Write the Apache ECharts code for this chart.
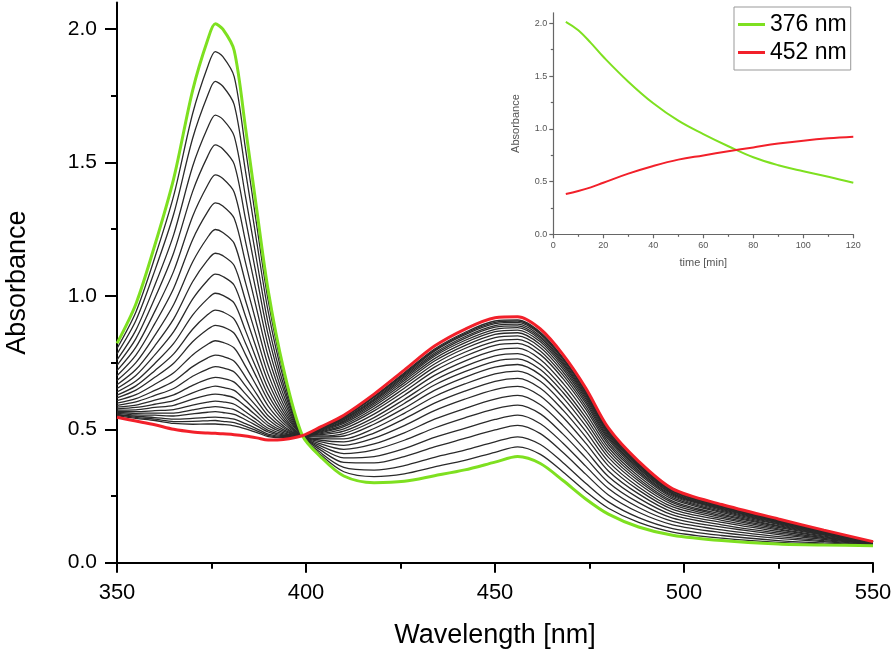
<!DOCTYPE html>
<html><head><meta charset="utf-8">
<script src="https://cdn.jsdelivr.net/npm/echarts@6/dist/echarts.min.js"></script>
<style>html,body{margin:0;padding:0;background:#fff}#c{width:896px;height:654px}</style>
</head><body><div id="c"></div>
<script>
// Main spectra: wavelength grid (nm)
const wavelengths = [350,355,360,365,370,374,376,378,381,384,387,390,394,399,404,410,418,426,434,442,450,456,462,468,474,480,488,497,510,525,537,550];
// first spectrum (green)
const absFirst = [0.822,0.970,1.190,1.440,1.770,1.960,2.020,2.000,1.920,1.630,1.320,1.020,0.730,0.478,0.395,0.325,0.300,0.305,0.326,0.348,0.377,0.398,0.372,0.308,0.239,0.182,0.134,0.103,0.083,0.070,0.066,0.064];
// last spectrum (red)
const absLast = [0.545,0.531,0.517,0.500,0.490,0.486,0.485,0.483,0.480,0.475,0.468,0.460,0.462,0.476,0.510,0.553,0.632,0.722,0.812,0.875,0.918,0.922,0.876,0.780,0.655,0.505,0.380,0.277,0.218,0.164,0.122,0.079];
// intermediate spectra (black)
const absIntermediate = [
[0.803,0.940,1.144,1.376,1.683,1.860,1.916,1.897,1.822,1.551,1.262,0.982,0.712,0.478,0.403,0.341,0.323,0.333,0.359,0.384,0.414,0.434,0.406,0.340,0.267,0.204,0.151,0.115,0.092,0.076,0.070,0.065],
[0.783,0.908,1.095,1.307,1.590,1.752,1.804,1.786,1.717,1.467,1.200,0.941,0.692,0.478,0.411,0.357,0.347,0.364,0.395,0.422,0.453,0.472,0.443,0.375,0.298,0.228,0.169,0.128,0.102,0.083,0.074,0.066],
[0.760,0.872,1.040,1.230,1.485,1.631,1.678,1.662,1.599,1.372,1.130,0.895,0.670,0.478,0.421,0.376,0.374,0.398,0.434,0.466,0.498,0.515,0.484,0.413,0.332,0.254,0.189,0.142,0.113,0.091,0.079,0.067],
[0.740,0.840,0.991,1.162,1.391,1.524,1.566,1.551,1.494,1.288,1.068,0.854,0.651,0.478,0.429,0.393,0.398,0.428,0.470,0.504,0.537,0.553,0.521,0.448,0.362,0.278,0.207,0.155,0.123,0.098,0.083,0.068],
[0.720,0.808,0.942,1.093,1.298,1.416,1.454,1.440,1.389,1.204,1.006,0.813,0.631,0.477,0.437,0.409,0.423,0.459,0.505,0.543,0.577,0.591,0.558,0.482,0.393,0.301,0.225,0.167,0.133,0.105,0.087,0.070],
[0.701,0.778,0.896,1.029,1.211,1.316,1.349,1.337,1.291,1.125,0.948,0.775,0.613,0.477,0.445,0.425,0.445,0.487,0.538,0.578,0.613,0.627,0.592,0.514,0.421,0.323,0.242,0.179,0.142,0.111,0.091,0.071],
[0.683,0.750,0.852,0.968,1.127,1.220,1.249,1.238,1.197,1.050,0.892,0.739,0.595,0.477,0.453,0.440,0.467,0.514,0.570,0.613,0.649,0.661,0.625,0.545,0.448,0.344,0.258,0.190,0.151,0.117,0.094,0.072],
[0.667,0.724,0.813,0.914,1.053,1.135,1.160,1.151,1.114,0.983,0.843,0.706,0.580,0.477,0.459,0.453,0.486,0.539,0.598,0.643,0.680,0.691,0.654,0.572,0.472,0.363,0.272,0.200,0.159,0.123,0.097,0.072],
[0.653,0.702,0.779,0.866,0.988,1.059,1.082,1.073,1.040,0.924,0.799,0.678,0.566,0.477,0.465,0.464,0.503,0.560,0.623,0.670,0.708,0.718,0.680,0.596,0.493,0.379,0.284,0.209,0.166,0.127,0.100,0.073],
[0.640,0.681,0.747,0.822,0.928,0.990,1.010,1.002,0.973,0.870,0.759,0.652,0.554,0.477,0.471,0.475,0.519,0.579,0.646,0.695,0.733,0.743,0.704,0.619,0.513,0.395,0.296,0.218,0.172,0.132,0.103,0.074],
[0.628,0.663,0.720,0.783,0.875,0.930,0.947,0.940,0.913,0.823,0.725,0.629,0.543,0.477,0.475,0.484,0.532,0.597,0.666,0.716,0.755,0.764,0.724,0.638,0.530,0.408,0.306,0.225,0.177,0.136,0.105,0.075],
[0.618,0.647,0.695,0.748,0.828,0.875,0.890,0.884,0.860,0.780,0.693,0.608,0.533,0.477,0.480,0.493,0.544,0.612,0.684,0.736,0.775,0.784,0.743,0.655,0.545,0.420,0.315,0.231,0.182,0.139,0.107,0.075],
[0.608,0.630,0.669,0.712,0.779,0.819,0.832,0.826,0.805,0.736,0.661,0.587,0.523,0.476,0.484,0.502,0.557,0.628,0.702,0.756,0.796,0.804,0.762,0.673,0.561,0.432,0.324,0.238,0.188,0.143,0.109,0.076],
[0.598,0.615,0.646,0.680,0.735,0.768,0.778,0.773,0.755,0.696,0.631,0.567,0.513,0.476,0.488,0.510,0.569,0.642,0.719,0.774,0.815,0.822,0.780,0.690,0.576,0.443,0.333,0.244,0.192,0.146,0.111,0.076],
[0.590,0.603,0.627,0.653,0.699,0.726,0.735,0.730,0.715,0.663,0.607,0.551,0.506,0.476,0.491,0.516,0.578,0.654,0.733,0.789,0.830,0.837,0.794,0.703,0.587,0.452,0.340,0.249,0.196,0.149,0.113,0.077],
[0.583,0.591,0.609,0.629,0.665,0.688,0.695,0.691,0.677,0.633,0.585,0.537,0.499,0.476,0.494,0.522,0.587,0.665,0.745,0.803,0.844,0.850,0.807,0.715,0.598,0.461,0.346,0.253,0.200,0.151,0.114,0.077],
[0.577,0.582,0.594,0.608,0.637,0.656,0.662,0.657,0.646,0.608,0.566,0.524,0.493,0.476,0.497,0.527,0.594,0.674,0.756,0.814,0.856,0.862,0.818,0.726,0.607,0.468,0.352,0.257,0.203,0.153,0.116,0.077],
[0.572,0.573,0.582,0.590,0.613,0.628,0.632,0.629,0.618,0.586,0.550,0.514,0.488,0.476,0.499,0.531,0.600,0.682,0.765,0.824,0.866,0.872,0.828,0.735,0.615,0.474,0.356,0.260,0.205,0.155,0.117,0.078],
[0.567,0.566,0.570,0.574,0.591,0.602,0.606,0.603,0.594,0.566,0.535,0.504,0.483,0.476,0.501,0.535,0.606,0.689,0.774,0.833,0.875,0.881,0.836,0.743,0.622,0.480,0.361,0.263,0.207,0.157,0.118,0.078],
[0.563,0.560,0.561,0.561,0.573,0.582,0.585,0.582,0.574,0.550,0.523,0.496,0.479,0.476,0.503,0.538,0.610,0.695,0.780,0.841,0.883,0.888,0.843,0.749,0.628,0.484,0.364,0.266,0.209,0.158,0.118,0.078],
[0.560,0.554,0.553,0.550,0.558,0.564,0.566,0.563,0.556,0.536,0.513,0.490,0.476,0.476,0.504,0.541,0.614,0.700,0.786,0.847,0.889,0.894,0.849,0.755,0.633,0.488,0.367,0.268,0.211,0.159,0.119,0.078],
[0.556,0.549,0.544,0.538,0.541,0.545,0.546,0.544,0.538,0.521,0.502,0.482,0.473,0.476,0.505,0.544,0.619,0.705,0.793,0.854,0.896,0.901,0.856,0.761,0.638,0.492,0.370,0.270,0.213,0.160,0.120,0.078],
[0.554,0.545,0.538,0.529,0.530,0.532,0.533,0.530,0.525,0.511,0.494,0.477,0.470,0.476,0.506,0.546,0.622,0.709,0.797,0.859,0.901,0.906,0.860,0.765,0.642,0.495,0.372,0.272,0.214,0.161,0.120,0.079],
[0.551,0.541,0.533,0.522,0.519,0.520,0.520,0.518,0.513,0.502,0.488,0.473,0.468,0.476,0.507,0.548,0.624,0.712,0.801,0.863,0.906,0.910,0.864,0.769,0.645,0.498,0.374,0.273,0.215,0.162,0.121,0.079]
];
// axis ticks
const mainYTicks = [0, 0.5, 1.0, 1.5, 2.0];
const mainYMinor = [0.25, 0.75, 1.25, 1.75];
// inset: absorbance vs time
const insetTime = [5,10,15,20,30,40,50,60,70,80,90,100,110,120];
const inset376 = [2.015,1.935,1.815,1.683,1.447,1.242,1.077,0.950,0.835,0.730,0.655,0.598,0.546,0.489];
const inset452 = [0.382,0.410,0.445,0.489,0.575,0.648,0.708,0.748,0.787,0.824,0.860,0.888,0.910,0.925];
const legendNames = ['376 nm', '452 nm'];

const FONT = 'Liberation Sans, Arial, sans-serif';
const GREEN = '#7ee020';
const RED = '#f2202a';
const INK = '#000';
const GRAY = '#666';

const spec = arr => wavelengths.map((w, i) => [w, arr[i]]);
const kin = arr => insetTime.map((t, i) => [t, arr[i]]);

const chart = echarts.init(document.getElementById('c'), null, {renderer: 'canvas'});

const series = [];
absIntermediate.forEach(c => series.push({
  type: 'line', xAxisIndex: 0, yAxisIndex: 0, data: spec(c), symbol: 'none', smooth: 0.3,
  lineStyle: {color: '#2a2a2a', width: 1.3}, silent: true, z: 2
}));
series.push({type: 'line', xAxisIndex: 0, yAxisIndex: 0, data: spec(absFirst), symbol: 'none', smooth: 0.3,
  lineStyle: {color: GREEN, width: 3}, silent: true, z: 3});
series.push({type: 'line', xAxisIndex: 0, yAxisIndex: 0, data: spec(absLast), symbol: 'none', smooth: 0.3,
  lineStyle: {color: RED, width: 3}, silent: true, z: 3});
series.push({name: legendNames[0], type: 'line', xAxisIndex: 1, yAxisIndex: 2, data: kin(inset376), symbol: 'none', smooth: 0.4,
  lineStyle: {color: GREEN, width: 2}, itemStyle: {color: GREEN}, silent: true, z: 4});
series.push({name: legendNames[1], type: 'line', xAxisIndex: 1, yAxisIndex: 2, data: kin(inset452), symbol: 'none', smooth: 0.4,
  lineStyle: {color: RED, width: 2}, itemStyle: {color: RED}, silent: true, z: 4});

chart.setOption({
  animation: false,
  backgroundColor: '#fff',
  textStyle: {fontFamily: FONT},
  grid: [
    {left: 117, right: 23, top: 2.5, bottom: 91.3, outerBoundsMode: 'none', containLabel: false},
    {left: 553.3, right: 42.7, top: 12.8, bottom: 419.7, outerBoundsMode: 'none', containLabel: false}
  ],
  legend: {
    data: legendNames, orient: 'vertical', left: 734, top: 7, icon: 'rect',
    backgroundColor: '#fff', borderColor: '#999', borderWidth: 1, borderRadius: 0,
    padding: [6, 4, 6, 4], itemWidth: 27, itemHeight: 3, itemGap: 5,
    textStyle: {fontSize: 23, color: INK, fontFamily: FONT}
  },
  xAxis: [
    {gridIndex: 0, type: 'value', min: 350, max: 550, interval: 50, position: 'bottom',
     axisLine: {show: true, onZero: false, lineStyle: {color: INK, width: 2}},
     axisTick: {show: true, length: 10, lineStyle: {color: INK, width: 2}},
     minorTick: {show: true, splitNumber: 2, length: 6, lineStyle: {color: INK, width: 2}},
     axisLabel: {fontSize: 22, color: INK, margin: 19, fontFamily: FONT},
     splitLine: {show: false},
     name: 'Wavelength [nm]', nameLocation: 'middle', nameGap: 59,
     nameTextStyle: {fontSize: 27, color: INK, fontFamily: FONT}},
    {gridIndex: 1, type: 'value', min: 0, max: 120, interval: 20, position: 'bottom',
     axisLine: {show: true, onZero: false, lineStyle: {color: GRAY, width: 1.2}},
     axisTick: {show: true, length: 4, lineStyle: {color: GRAY, width: 1.2}},
     minorTick: {show: true, splitNumber: 2, length: 2.5, lineStyle: {color: GRAY, width: 1.2}},
     axisLabel: {fontSize: 9, color: '#555', margin: 7, fontFamily: FONT},
     splitLine: {show: false},
     name: 'time [min]', nameLocation: 'middle', nameGap: 23,
     nameTextStyle: {fontSize: 11, color: '#555', fontFamily: FONT}}
  ],
  yAxis: [
    {gridIndex: 0, type: 'value', min: 0, max: 2.1, position: 'left',
     axisLine: {show: true, onZero: false, lineStyle: {color: INK, width: 2}},
     axisTick: {show: true, customValues: mainYTicks, length: 12, lineStyle: {color: INK, width: 2}},
     axisLabel: {customValues: mainYTicks, formatter: v => v.toFixed(1), fontSize: 21, color: INK, margin: 20, fontFamily: FONT},
     splitLine: {show: false},
     name: 'Absorbance', nameLocation: 'middle', nameGap: 86,
     nameTextStyle: {fontSize: 27, color: INK, fontFamily: FONT}},
    {gridIndex: 0, type: 'value', min: 0, max: 2.1, position: 'left', offset: 0,
     axisLine: {show: false, onZero: false},
     axisTick: {show: true, customValues: mainYMinor, length: 6, lineStyle: {color: INK, width: 2}},
     axisLabel: {show: false}, splitLine: {show: false}},
    {gridIndex: 1, type: 'value', min: 0, max: 2.1, position: 'left',
     axisLine: {show: true, onZero: false, lineStyle: {color: GRAY, width: 1.2}},
     axisTick: {show: true, customValues: mainYTicks, length: 4, lineStyle: {color: GRAY, width: 1.2}},
     axisLabel: {customValues: mainYTicks, formatter: v => v.toFixed(1), fontSize: 9, color: '#555', margin: 6, fontFamily: FONT},
     splitLine: {show: false},
     name: 'Absorbance', nameLocation: 'middle', nameGap: 32,
     nameTextStyle: {fontSize: 11, color: '#555', fontFamily: FONT}},
    {gridIndex: 1, type: 'value', min: 0, max: 2.1, position: 'left', offset: 0,
     axisLine: {show: false, onZero: false},
     axisTick: {show: true, customValues: mainYMinor, length: 2.5, lineStyle: {color: GRAY, width: 1.2}},
     axisLabel: {show: false}, splitLine: {show: false}}
  ],
  series: series
});
</script>
</body></html>
